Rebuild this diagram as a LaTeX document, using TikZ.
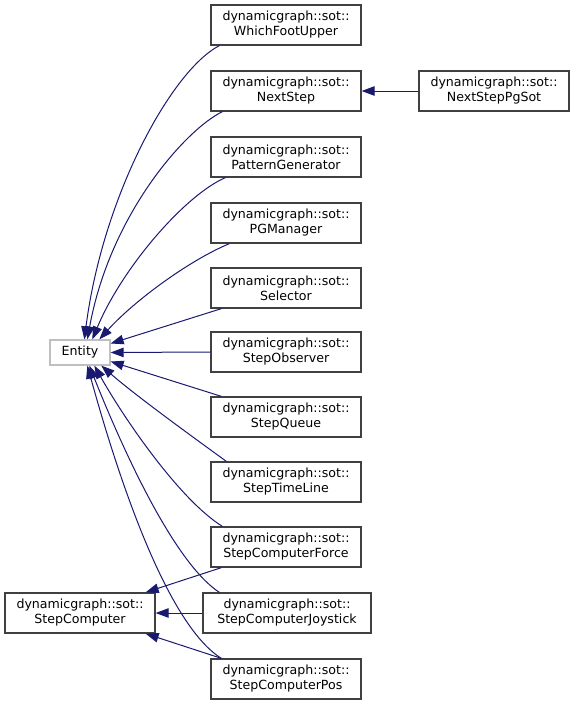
\documentclass[tikz,border=0pt]{standalone}
\usepackage{fontspec}
\setmainfont{DejaVu Sans}
\usetikzlibrary{arrows.meta}
\definecolor{edgeblue}{HTML}{191970}
\definecolor{boxgray}{HTML}{404040}
\definecolor{entgray}{HTML}{BFBFBF}
\begin{document}
\begin{tikzpicture}[x=1pt,y=-1pt,
  cls/.style={draw=boxgray,line width=1.3pt,fill=white,minimum width=150pt,minimum height=40pt,inner sep=0pt,align=center,font=\fontsize{12.6}{15}\selectfont},
  ent/.style={draw=entgray,line width=1.3pt,fill=white,minimum width=60pt,minimum height=25pt,inner sep=0pt,font=\fontsize{12.6}{15}\selectfont},
  inh/.style={draw=edgeblue,line width=1pt,-{Triangle[length=13pt,width=9.5pt]}}]
\useasboundingbox (0,0) rectangle (575,705);
\node[ent] (E) at (80,352.5) {Entity};
\node[cls] (SC) at (80,613) {dynamicgraph::sot::\\StepComputer};
\node[cls] (WFU) at (286,25) {dynamicgraph::sot::\\WhichFootUpper};
\node[cls] (NS) at (286,91) {dynamicgraph::sot::\\NextStep};
\node[cls] (NSPS) at (494,91) {dynamicgraph::sot::\\NextStepPgSot};
\node[cls] (PG) at (286,157) {dynamicgraph::sot::\\PatternGenerator};
\node[cls] (PGM) at (286,223) {dynamicgraph::sot::\\PGManager};
\node[cls] (SEL) at (286,288) {dynamicgraph::sot::\\Selector};
\node[cls] (SO) at (286,352) {dynamicgraph::sot::\\StepObserver};
\node[cls] (SQ) at (286,417) {dynamicgraph::sot::\\StepQueue};
\node[cls] (STL) at (286,482) {dynamicgraph::sot::\\StepTimeLine};
\node[cls] (SCF) at (286,547) {dynamicgraph::sot::\\StepComputerForce};
\node[cls,minimum width=168pt] (SCJ) at (287,613) {dynamicgraph::sot::\\StepComputerJoystick};
\node[cls] (SCP) at (286,679) {dynamicgraph::sot::\\StepComputerPos};
% inheritance edges
\draw[inh] (NSPS.west) -- (NS.east);
\draw[inh] ([xshift=9pt]WFU.south west) .. controls (172,70) and (103,195) .. ([xshift=35pt]E.north west);
\draw[inh] ([xshift=12pt]NS.south west) .. controls (185,130) and (110,215) .. ([xshift=38pt]E.north west);
\draw[inh] ([xshift=15pt]PG.south west) .. controls (185,195) and (122,268) .. ([xshift=43pt]E.north west);
\draw[inh] ([xshift=19pt]PGM.south west) .. controls (190,260) and (135,300) .. ([xshift=50pt]E.north west);
\draw[inh] ([xshift=11pt]SEL.south west) -- ([yshift=9pt]E.east);
\draw[inh] (SO.west) -- (E.east);
\draw[inh] ([xshift=11pt]SQ.north west) -- ([yshift=-9pt]E.east);
\draw[inh] ([xshift=16pt]STL.north west) .. controls (190,435) and (135,395) .. ([xshift=52pt]E.south west);
\draw[inh] ([xshift=12pt]SCF.north west) .. controls (180,500) and (125,420) .. ([xshift=45pt]E.south west);
\draw[inh] ([xshift=17pt]SCJ.north west) .. controls (170,560) and (115,430) .. ([xshift=40pt]E.south west);
\draw[inh] ([xshift=11pt]SCP.north west) .. controls (160,620) and (108,440) .. ([xshift=38pt]E.south west);
\draw[inh] ([xshift=11pt]SCF.south west) -- ([xshift=-10pt]SC.north east);
\draw[inh] (SCJ.west) -- (SC.east);
\draw[inh] ([xshift=11pt]SCP.north west) -- ([xshift=-10pt]SC.south east);
\end{tikzpicture}
\end{document}
